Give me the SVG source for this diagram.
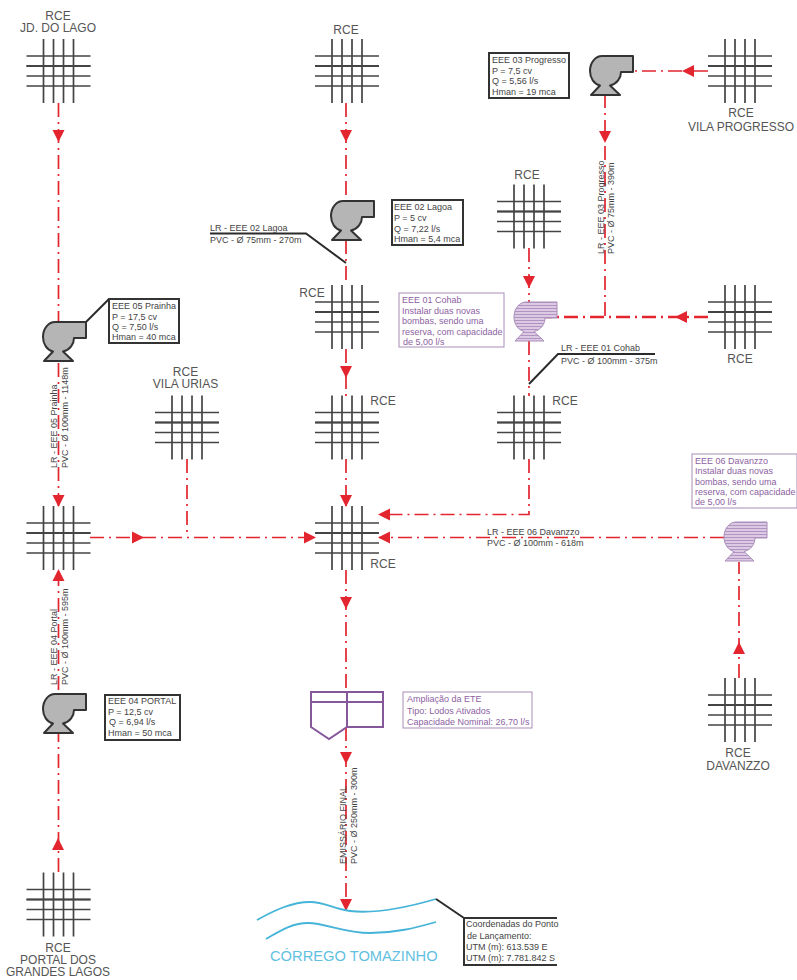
<svg xmlns="http://www.w3.org/2000/svg" width="797" height="980" viewBox="0 0 797 980">
<style>
text{font-family:"Liberation Sans",Arial,sans-serif;fill:#555}
.l{font-size:12px;text-anchor:middle}
.s{font-size:9px;fill:#444}
.p{font-size:9px;fill:#8d62a3}
.r{fill:none;stroke:#e2252f;stroke-width:1.7;stroke-dasharray:14 5 2 5}
.rb{stroke-width:2.5}
.lead{fill:none;stroke:#2b2b2b;stroke-width:2}
.box{fill:#fff;stroke:#333;stroke-width:2}
.pbox{fill:#fff;stroke:#a88db8;stroke-width:1}
.g{stroke:#444;stroke-width:1.7}
.pump{fill:#b5b5b5;stroke:#333;stroke-width:2;stroke-linejoin:round}
.pp{fill:url(#st);stroke:#a88db8;stroke-width:1}
.riv{fill:none;stroke:#45b4d8;stroke-width:1.8}
.ete{fill:none;stroke:#85589c;stroke-width:2}
</style>
<defs>
<pattern id="st" width="4" height="3" patternUnits="userSpaceOnUse"><rect width="4" height="3" fill="#dcc9e3"/><rect width="4" height="1" fill="#b194c2"/></pattern>
<polygon id="ah" points="0,0 -6,-12 6,-12" fill="#e2252f"/>
<path id="pb" d="M-3,0H28V16H16C16,22 12,28 5,29.500L15,39H-14L-5,29.500C-11,28 -15,22 -15,15C-15,6 -9,0 -3,0Z"/>
<g id="grid" class="g">
<path d="M-15,-32V32M-5,-32V32M5,-32V32M15,-32V32M-32,-15H32M-32,-5H32M-32,5H32M-32,15H32"/>
<path d="M-32,-5H32" stroke-width="2.2"/>
</g>
</defs>

<g id="connectors">
<path class="r" d="M58.5,103V506"/>
<path class="r" d="M58.5,872V570"/>
<path class="r" d="M346,103V201"/>
<path class="r" d="M346,240V285"/>
<path class="r" d="M346,349V396"/>
<path class="r" d="M346,459V506"/>
<path class="r" d="M346,570V692"/>
<path class="r" d="M346,727V911"/>
<path class="r" d="M90,537.5H316"/>
<path class="r" d="M187,459V537"/>
<path class="r" d="M529,459V514.5H379"/>
<path class="r" d="M724,537.5H379"/>
<path class="r" d="M739,678V562"/>
<path class="r" d="M529,248V302"/>
<path class="r" d="M529,341V396"/>
<path class="r" d="M708,71H620"/>
<path class="r" d="M605,94V317"/>
<path class="r rb" d="M708,317H545"/>
<use href="#ah" transform="translate(58.5,142)"/>
<use href="#ah" transform="translate(58.5,507)"/>
<use href="#ah" transform="translate(58.5,569) rotate(180)"/>
<use href="#ah" transform="translate(58,838) rotate(180)"/>
<use href="#ah" transform="translate(346,142)"/>
<use href="#ah" transform="translate(346,378)"/>
<use href="#ah" transform="translate(346,507)"/>
<use href="#ah" transform="translate(346,609)"/>
<use href="#ah" transform="translate(346,764)"/>
<use href="#ah" transform="translate(346,911)"/>
<use href="#ah" transform="translate(144,537.5) rotate(-90)"/>
<use href="#ah" transform="translate(316,537.5) rotate(-90)"/>
<use href="#ah" transform="translate(378,514.5) rotate(90)"/>
<use href="#ah" transform="translate(378,537.5) rotate(90)"/>
<use href="#ah" transform="translate(739,642) rotate(180)"/>
<use href="#ah" transform="translate(529,288)"/>
<use href="#ah" transform="translate(605,143)"/>
<use href="#ah" transform="translate(682,71) rotate(90)"/>
<use href="#ah" transform="translate(675,317) rotate(90)"/>
</g>

<g id="rce-jd-do-lago"><use href="#grid" x="58.5" y="71"/><text class="l" x="58" y="20">RCE</text><text class="l" x="58" y="32">JD. DO LAGO</text></g>
<g id="rce-top"><use href="#grid" x="347" y="71"/><text class="l" x="346" y="34">RCE</text></g>
<g id="rce-vila-progresso"><use href="#grid" x="740" y="71"/><text class="l" x="741" y="117">RCE</text><text class="l" x="741" y="131">VILA PROGRESSO</text></g>
<g id="rce-cohab-top"><use href="#grid" x="529" y="216.500"/><text class="l" x="527" y="179">RCE</text></g>
<g id="rce-right"><use href="#grid" x="740" y="317"/><text class="l" x="740" y="363">RCE</text></g>
<g id="rce-lagoa"><use href="#grid" x="347" y="317"/><text class="l" x="312" y="297">RCE</text></g>
<g id="rce-center-2"><use href="#grid" x="347" y="427.500"/><text class="l" x="383" y="405">RCE</text></g>
<g id="rce-cohab-low"><use href="#grid" x="529" y="427.500"/><text class="l" x="565" y="405">RCE</text></g>
<g id="rce-vila-urias"><use href="#grid" x="187" y="427.500"/><text class="l" x="185.500" y="376">RCE</text><text class="l" x="185.500" y="388">VILA URIAS</text></g>
<g id="rce-left"><use href="#grid" x="58.500" y="538"/></g>
<g id="rce-central"><use href="#grid" x="347" y="538"/><text class="l" x="383" y="568">RCE</text></g>
<g id="rce-davanzzo"><use href="#grid" x="740" y="710"/><text class="l" x="738" y="757">RCE</text><text class="l" x="738" y="770">DAVANZZO</text></g>
<g id="rce-portal"><use href="#grid" x="58.500" y="904.500"/><text class="l" x="58" y="952">RCE</text><text class="l" x="58" y="964">PORTAL DOS</text><text class="l" x="58" y="976">GRANDES LAGOS</text></g>

<g id="eee-05">
<path class="lead" d="M86,322L109,299"/>
<use href="#pb" class="pump" x="58" y="322"/>
<rect class="box" x="109" y="299" width="70" height="44"/>
<text class="s" x="112" y="309">EEE 05 Prainha</text><text class="s" x="112" y="319.500">P = 17,5 cv</text><text class="s" x="112" y="330">Q = 7,50 l/s</text><text class="s" x="112" y="340">Hman = 40 mca</text>
</g>
<g id="eee-02">
<path class="lead" d="M210,233.500H306L346,263"/>
<use href="#pb" class="pump" x="346" y="201"/>
<rect class="box" x="392" y="200" width="71" height="45"/>
<text class="s" x="394" y="210">EEE 02 Lagoa</text><text class="s" x="394" y="221">P = 5 cv</text><text class="s" x="394" y="232">Q = 7,22 l/s</text><text class="s" x="394" y="242">Hman = 5,4 mca</text>
<text class="s" x="210" y="231">LR - EEE 02 Lagoa</text><text class="s" x="210" y="243">PVC - Ø 75mm - 270m</text>
</g>
<g id="eee-03">
<use href="#pb" class="pump" x="605" y="56"/>
<rect class="box" x="489" y="53" width="80" height="45"/>
<text class="s" x="492" y="63">EEE 03 Progresso</text><text class="s" x="492" y="74">P = 7,5 cv</text><text class="s" x="492" y="84">Q = 5,56 l/s</text><text class="s" x="492" y="95">Hman = 19 mca</text>
<text class="s" transform="translate(604,254) rotate(-90)">LR - EEE 03 Progresso</text><text class="s" transform="translate(614,254) rotate(-90)">PVC - Ø 75mm - 390m</text>
</g>
<g id="eee-01">
<use href="#pb" class="pp" x="529" y="302"/>
<rect class="pbox" x="399" y="293" width="105" height="54"/>
<text class="p" x="402" y="303">EEE 01 Cohab</text><text class="p" x="402" y="313.500">Instalar duas novas</text><text class="p" x="402" y="324">bombas, sendo uma</text><text class="p" x="402" y="334.500">reserva, com capacidade</text><text class="p" x="403" y="345">de 5,00 l/s</text>
<path class="lead" d="M529,384L558,354H655"/>
<text class="s" x="561" y="351">LR - EEE 01 Cohab</text><text class="s" x="561" y="364">PVC - Ø 100mm - 375m</text>
</g>
<g id="eee-06">
<use href="#pb" class="pp" x="739" y="522"/>
<rect class="pbox" x="692" y="454" width="105" height="54"/>
<text class="p" x="695" y="463.500">EEE 06 Davanzzo</text><text class="p" x="695" y="474">Instalar duas novas</text><text class="p" x="695" y="485">bombas, sendo uma</text><text class="p" x="695" y="495">reserva, com capacidade</text><text class="p" x="695" y="505">de 5,00 l/s</text>
<text class="s" x="487" y="535">LR - EEE 06 Davanzzo</text><text class="s" x="487" y="546">PVC - Ø 100mm - 618m</text>
</g>
<g id="eee-05-line"><text class="s" transform="translate(57,468) rotate(-90)">LR - EEE 05 Prainha</text><text class="s" transform="translate(68,468) rotate(-90)">PVC - Ø 100mm - 1148m</text></g>
<g id="eee-04">
<use href="#pb" class="pump" x="58" y="694"/>
<rect class="box" x="105" y="695" width="75" height="45"/>
<text class="s" x="108" y="704">EEE 04 PORTAL</text><text class="s" x="108" y="715">P = 12,5 cv</text><text class="s" x="109" y="725">Q = 6,94 l/s</text><text class="s" x="108" y="736">Hman = 50 mca</text>
<text class="s" transform="translate(57,685) rotate(-90)">LR - EEE 04 Portal</text><text class="s" transform="translate(68,685) rotate(-90)">PVC - Ø 100mm - 595m</text>
</g>
<g id="ete">
<path class="ete" d="M311,692H383V727H347L329,739L311,727ZM311,702H383M347,692V727"/>
<rect class="pbox" x="403" y="692" width="129" height="36"/>
<text class="p" x="407" y="702">Ampliação da ETE</text><text class="p" x="407" y="714">Tipo: Lodos Ativados</text><text class="p" x="407" y="725">Capacidade Nominal: 26,70 l/s</text>
<text class="s" transform="translate(346,864) rotate(-90)">EMISSÁRIO FINAL</text><text class="s" transform="translate(357,864) rotate(-90)">PVC - Ø 250mm - 300m</text>
</g>
<g id="corrego">
<path class="riv" d="M257,920C275,910 292,902 310,902C325,902 333,909 350,911C375,914 405,908 436,899"/>
<path class="riv" d="M266,939C280,931 292,923 308,923C325,923 345,933 370,933C395,933 415,928 436,922"/>
<text x="270" y="961" style="font-size:14.7px;fill:#62bfe0">CÓRREGO TOMAZINHO</text>
</g>
<g id="coordenadas">
<path class="lead" d="M436,899L464,918"/>
<path class="box" d="M557,918H464V965H557" style="fill:none"/>
<text class="s" x="466" y="927">Coordenadas do Ponto</text><text class="s" x="467" y="939">de Lançamento:</text><text class="s" x="466" y="950">UTM (m): 613.539 E</text><text class="s" x="466" y="961">UTM (m): 7.781.842 S</text>
</g>
</svg>
